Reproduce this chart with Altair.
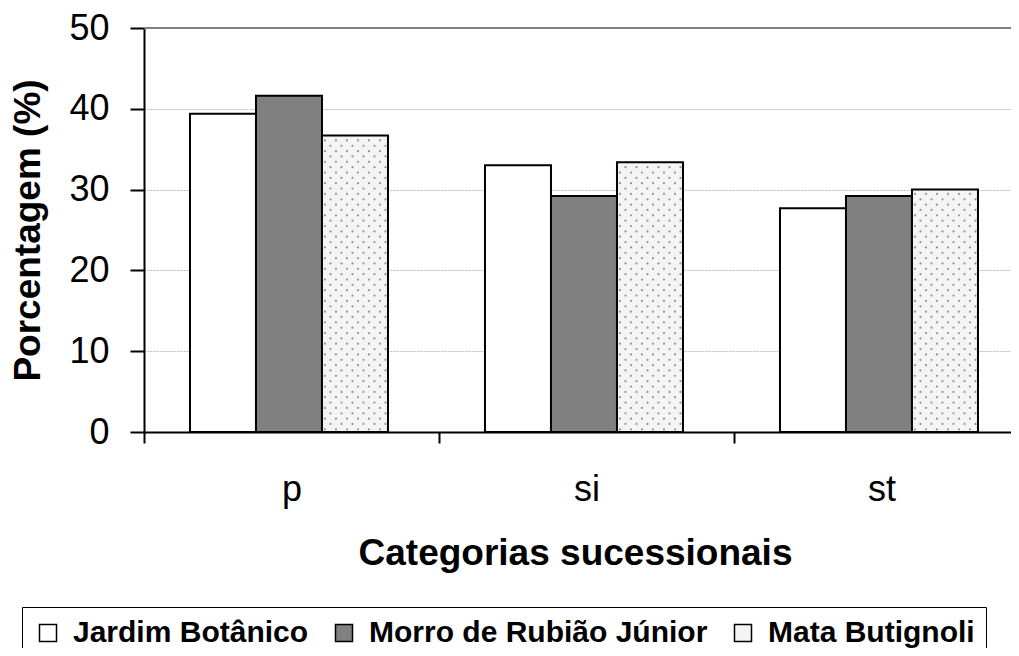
import json
import altair as alt
import pandas as pd

# ---- data ----
categories = ["p", "si", "st"]
series = ["Jardim Botânico", "Morro de Rubião Júnior", "Mata Butignoli"]
jardim = [39.4, 33.0, 27.7]
morro = [41.6, 29.2, 29.2]
mata = [36.7, 33.4, 30.0]
y_ticks = [0, 10, 20, 30, 40, 50]
y_max = 50

rows = []
for name, vals in zip(series, [jardim, morro, mata]):
    for c, v in zip(categories, vals):
        rows.append({"cat": c, "series": name, "value": v})
df = pd.DataFrame(rows)
mata_df = pd.DataFrame({"cat": categories, "value": mata})
top_df = pd.DataFrame({"v": [y_max]})

FONT = "Liberation Sans"
W, H = 867, 404          # visible plot area
XR = 885                 # x range (runs past the right edge, as in the reference)
BAND = XR / 3.0
BARW = 66.0
ALIGN = 0.474
BAR0 = ALIGN * (BAND - 3 * BARW) + 2 * BARW   # start of third bar inside its band (px)
ROW = 5.35 / (H / 50.0)                        # dot row pitch in data units

bars = alt.Chart(df).mark_bar(stroke="black", strokeWidth=2).encode(
    x=alt.X(
        "cat:N",
        sort=categories,
        scale=alt.Scale(paddingInner=0, paddingOuter=0, range=[0, XR]),
        axis=alt.Axis(
            title="Categorias sucessionais",
            labelAngle=0,
            tickBand="extent",
            tickSize=11,
            tickWidth=2,
            tickColor="black",
            domainWidth=2,
            domainColor="black",
            labelFontSize=36,
            labelFont=FONT,
            labelColor="black",
            labelBaseline="alphabetic",
            labelPadding=57,
            titleFontSize=37,
            titleFont=FONT,
            titleFontWeight="bold",
            titleColor="black",
            titleBaseline="alphabetic",
            titleAlign="center",
            titleX=431,
            titleY=132,
            grid=False,
        ),
    ),
    xOffset=alt.XOffset(
        "series:N", sort=series,
        scale=alt.Scale(paddingInner=0, paddingOuter=(BAND / BARW - 3) / 2, align=ALIGN),
    ),
    y=alt.Y(
        "value:Q",
        scale=alt.Scale(domain=[0, y_max], nice=False),
        axis=alt.Axis(
            values=y_ticks,
            tickSize=14,
            tickWidth=2,
            tickColor="black",
            domainWidth=2,
            domainColor="black",
            labelFontSize=36,
            labelFont=FONT,
            labelColor="black",
            labelPadding=21,
            title="Porcentagem (%)",
            titleFontSize=37,
            titleFont=FONT,
            titleFontWeight="bold",
            titleColor="black",
            titleAngle=270,
            titleBaseline="alphabetic",
            titleAlign="center",
            titleX=-104.5,
            titleY=202,
            grid=True,
            gridColor="#bdbdbd",
            gridDash=[2, 1],
            gridWidth=1,
        ),
    ),
    color=alt.Color(
        "series:N",
        sort=series,
        scale=alt.Scale(domain=series, range=["white", "#808080", "#f4f4f4"]),
        legend=alt.Legend(
            title=None,
            orient="none",
            legendX=-122,
            legendY=579,
            direction="horizontal",
            columns=3,
            labelFontSize=30,
            labelFont=FONT,
            labelFontWeight="bold",
            labelColor="black",
            labelLimit=800,
            symbolType="square",
            symbolSize=289,
            symbolStrokeColor="black",
            symbolStrokeWidth=1.5,
            strokeColor="black",
            padding=11,
            labelOffset=10,
            columnPadding=20,
        ),
    ),
)

cats_js = json.dumps(categories)
dots = (
    alt.Chart(mata_df)
    .transform_calculate(ci=f"indexof({cats_js}, datum.cat)", r="sequence(0, 90)")
    .transform_flatten(["r"])
    .transform_calculate(k="sequence(0, 6)")
    .transform_flatten(["k"])
    .transform_calculate(
        yv=f"(datum.r + 0.5) * {ROW}",
        xv=f"datum.ci + ({BAR0} + 3 + datum.k * 11 + (datum.r % 2) * 5.5) / {BAND}",
    )
    .transform_filter(f"datum.yv < datum.value - {ROW * 0.6}")
    .mark_circle(size=5, color="#959595", opacity=1)
    .encode(
        x=alt.X("xv:Q", scale=alt.Scale(domain=[0, 3], nice=False, zero=False, range=[0, XR]), axis=None),
        y=alt.Y("yv:Q", scale=alt.Scale(domain=[0, y_max], nice=False), axis=None),
    )
)

top_line = alt.Chart(top_df).mark_rule(color="#808080", strokeWidth=2).encode(
    y=alt.Y("v:Q", scale=alt.Scale(domain=[0, y_max], nice=False), axis=None),
    x=alt.value(0),
    x2=alt.value(XR),
)

chart = (
    alt.layer(bars, dots, top_line)
    .resolve_scale(x="independent")
    .resolve_axis(y="independent")
    .properties(
        width=W,
        height=H,
        autosize=alt.AutoSizeParams(type="none"),
        padding={"left": 136, "top": 20, "right": 0, "bottom": 216},
        background="white",
    )
    .configure_view(stroke=None)
    .configure(font=FONT)
)

chart.save("out.html", embed_options={"renderer": "svg", "actions": False})
